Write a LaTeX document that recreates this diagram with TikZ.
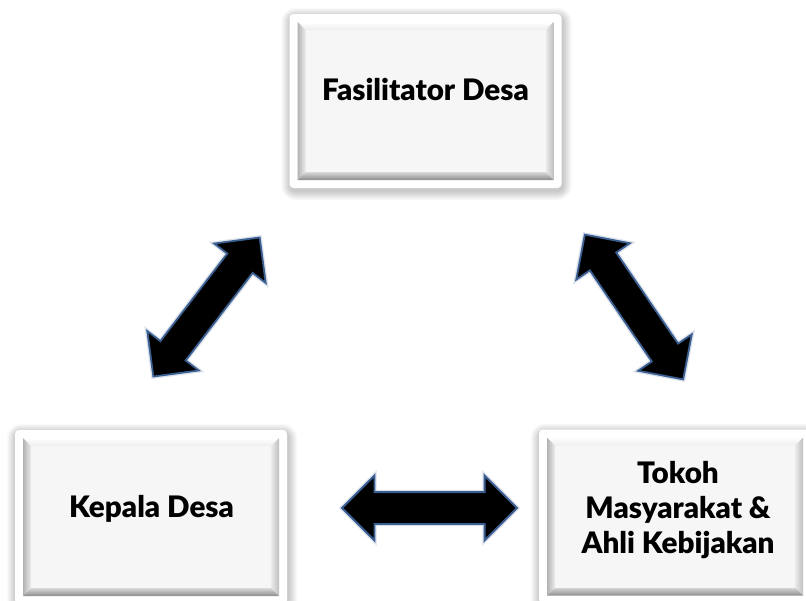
\documentclass[tikz,border=0pt]{standalone}
\usepackage{fontspec}
\newfontfamily\lbl{Lato}[BoldFont={Lato Black}]
\usetikzlibrary{shapes.arrows}
\definecolor{arrowedge}{HTML}{3B5E91}
\definecolor{faceclr}{HTML}{F6F6F6}
\tikzset{
  lbltext/.style={font=\lbl\bfseries\fontsize{29.6}{35}\selectfont, align=center, text=black, inner sep=0pt},
  blockarrow/.style={double arrow, fill=black, draw=arrowedge, line width=1.8pt,
    inner xsep=0pt, inner ysep=15pt, minimum height=175pt, minimum width=63pt,
    double arrow head extend=16.5pt, double arrow tip angle=90,
    preaction={draw=arrowedge!35, line width=4.5pt, opacity=0.5}},
  facebox/.style={rectangle, fill=faceclr, inner sep=0pt, minimum width=240pt, minimum height=142pt},
}
\newcommand\bevbox[3]{%
  \begin{scope}[shift={(#2,#3)}]
    \foreach \i in {1,...,9}{%
      \pgfmathsetmacro\rr{5+\i}%
      \fill[black, opacity=0.022, rounded corners=\rr pt] (-136-\i+1,-87-\i+3) rectangle (136+\i+1,87+\i+3);
    }
    \fill[white, rounded corners=4pt] (-136,-87) rectangle (136,87);
    \shade[top color=white, bottom color=white!93!black] (-128,-79) -- (128,-79) -- (120,-71) -- (-120,-71) -- cycle;
    \shade[left color=white!70!black, right color=white!93!black] (-128,-79) -- (-120,-71) -- (-120,71) -- (-128,79) -- cycle;
    \shade[left color=white!92!black, right color=white!75!black] (128,-79) -- (120,-71) -- (120,71) -- (128,79) -- cycle;
    \shade[top color=white!85!black, bottom color=white!55!black] (-128,79) -- (-120,71) -- (120,71) -- (128,79) -- cycle;
    \node[facebox] (#1) at (0,0) {};
  \end{scope}}
\begin{document}
\begin{tikzpicture}[x=1pt,y=-1pt]
  \useasboundingbox (0,0) rectangle (806,600);
  \clip (0,0) rectangle (806,600);
  \fill[white] (0,0) rectangle (806,600);
  \bevbox{fd}{425.5}{101}
  \bevbox{kd}{151}{517}
  \bevbox{tm}{675}{516.5}
  \node[lbltext, anchor=base] (fdt) at (425.5,100) {Fasilitator Desa};
  \node[lbltext, anchor=base] (kdt) at (151.5,517) {Kepala Desa};
  \node[lbltext, anchor=base] (tmt) at (678,553) {Tokoh\\Masyarakat \&\\Ahli Kebijakan};
  \node[blockarrow, rotate=52.6] (a1) at (206.5,307) {};
  \node[blockarrow, rotate=-55.8] (a2) at (634,307) {};
  \node[blockarrow] (a3) at (429.5,508) {};
\end{tikzpicture}
\end{document}
